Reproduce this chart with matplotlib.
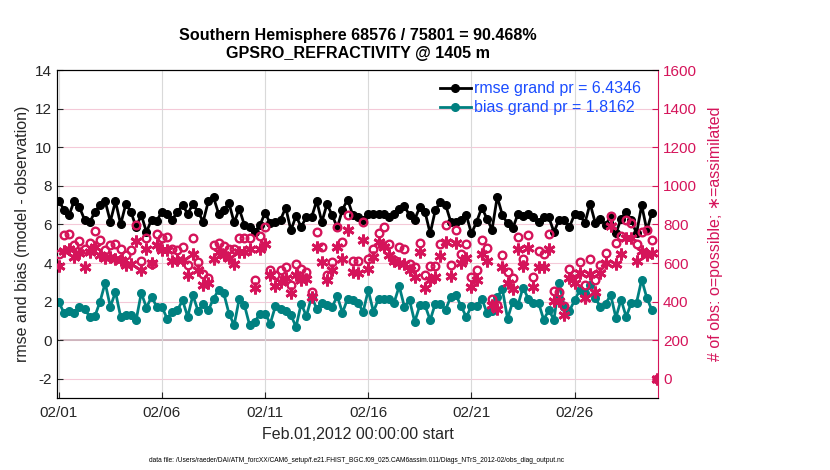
import numpy as np
import pandas as pd
import matplotlib
matplotlib.use('Agg')
import matplotlib.pyplot as plt
import matplotlib.dates as mdates

plt.rcParams['font.family'] = ['Liberation Sans', 'DejaVu Sans']
plt.rcParams['axes.unicode_minus'] = False

# 6-hourly bins, 02/01 00Z .. 03/01 00Z
times = pd.date_range('2012-02-01 00:00', periods=117, freq='6h')
tick_days = pd.to_datetime(['2012-02-01', '2012-02-06', '2012-02-11', '2012-02-16', '2012-02-21', '2012-02-26'])

rmse = [7.22, 6.77, 6.48, 7.22, 6.9, 6.25, 6.1, 6.65, 7.0, 7.2, 6.15, 7.2, 6.0, 7.05, 6.65, 5.85, 6.5, 5.6,
        6.25, 6.2, 6.65, 6.55, 6.25, 6.65, 7.0, 6.55, 7.05, 6.65, 6.15, 7.2, 7.4, 6.55, 6.75, 7.1, 6.1, 6.8,
        5.96, 5.87, 5.61, 5.96, 6.6, 6.05, 6.13, 6.25, 6.87, 5.7, 6.43, 5.87, 6.39, 6.36, 7.22, 6.13, 7.05,
        6.48, 5.84, 6.77, 7.29, 6.48, 6.39, 6.22, 6.56, 6.56, 6.56, 6.56, 6.36, 6.56, 6.82, 6.94, 6.48, 6.25,
        6.91, 6.65, 5.53, 6.74, 7.17,
        7.0, 6.13, 6.13, 6.22, 6.48, 5.53, 6.13, 6.87, 6.3, 5.73, 7.43, 6.48, 6.05, 5.79, 6.53, 6.43, 6.53,
        6.36, 6.13, 6.36, 6.36, 5.61, 6.25, 6.22, 5.87, 6.53, 6.48, 6.08, 7.08, 6.08, 6.3, 5.96, 6.43, 5.53,
        6.3, 6.65, 6.22, 5.53, 7.0, 5.7, 6.61, np.nan]

bias = [1.99, 1.42, 1.52, 1.43, 1.73, 1.64, 1.21, 1.24, 1.99, 2.97, 1.73, 2.5, 1.21, 1.3, 1.3, 1.04, 2.45,
        1.69, 2.25, 1.73, 1.73, 1.12, 1.47, 1.55, 2.07, 1.21, 2.33, 1.52, 1.87, 1.55, 2.16, 2.6, 2.42, 1.38,
        0.78, 2.16,
        1.81, 0.78, 0.95, 1.38, 1.38, 0.86, 1.76, 1.64, 1.52, 1.3, 0.69, 1.9, 1.24, 2.25, 1.64, 1.94, 1.81,
        1.73, 2.28, 1.42, 2.16, 2.1, 1.94, 1.47, 2.59, 1.47, 2.16, 2.16, 2.16, 1.94, 2.8, 1.73, 2.07, 0.95,
        1.81, 1.81, 1.04, 1.9, 1.86,
        1.59, 2.25, 2.33, 1.76, 1.21, 1.76, 1.76, 2.16, 1.42, 1.52, 2.25, 2.63, 1.12, 1.99, 1.81, 2.73, 2.16,
        1.94, 1.94, 1.07, 1.55, 1.07, 2.97, 1.73, 1.52, 2.07, 2.59, 2.42, 2.85, 2.19, 1.73, 1.9, 2.33, 1.17,
        2.1, 1.21, 1.94, 1.94, 3.14, 2.19, 1.55, np.nan]

nposs = [649, 744, 749, 692, 713, 675, 704, 765, 718, 666, 692, 700, 675, 640, 668, 797, 609, 732, 597,
         749, 727, 735, 675, 666, 684, 592, 727, 606, 545, 520, 692, 704, 687, 675, 675, 727,
         727, 727, 511, 739, 787, 566, 537, 563, 577, 485, 597, 571, 554, 450, 761, 684, 537, 606, 787,
         710, 848, 611, 611, 813, 623, 675, 753, 787, 697, 615, 684, 675, 597, 577, 704, 537, 584, 584, 700,
         796, 589, 773, 649, 697, 528, 566, 718, 680, 416, 381, 640, 554, 520, 735, 623, 744, 528, 661,
         649, 749, 456, 450, 376, 571, 542, 606, 485, 620, 513, 589, 653, 843, 704, 739, 822, 805, 697,
         761, 770, 718, 0]

nused = [583, 663, 670, 632, 653, 580, 658, 684, 640, 628, 632, 623, 615, 589, 597, 715, 563, 670, 600,
         692, 666, 666, 611, 615, 618, 537, 649, 563, 485, 494, 623, 658, 640, 628, 597, 658,
         658, 675, 468, 675, 700, 537, 480, 502, 520, 442, 537, 511, 515, 425, 684, 606, 511, 563, 684,
         623, 770, 554, 549, 720, 571, 632, 710, 684, 640, 611, 600, 597, 563, 525, 658, 468, 511, 528, 636,
         710, 532, 704, 600, 628, 476, 511, 646, 611, 381, 364, 577, 494, 463, 670, 584, 680, 476, 577,
         577, 675, 404, 404, 330, 520, 497, 549, 421, 542, 450, 549, 600, 790, 594, 649, 732, 732, 611,
         663, 640, 653, 0]

rmse_grand = 6.4346
bias_grand = 1.8162

obs_color = '#D5145A'
teal = '#008080'
blue = '#1A4CFF'
txt = '#262626'

fig = plt.figure(figsize=(8.3, 4.7), dpi=100)
ax = fig.add_axes([0.0687, 0.153, 0.7241, 0.698])

# grid lines
for yv in range(-2, 15, 2):
    ax.axhline(yv, color='#F4C9D8', lw=0.8, zorder=0)
ax.axhline(0, color='#C8B0B8', lw=1.2, zorder=0)
ax.grid(axis='x', color='#D9D9D9', lw=0.8)
ax.set_axisbelow(True)

ax.plot(times, rmse, '-o', color='black', lw=2, ms=5.5, mfc='black', mec='black',
        label='rmse grand pr = %.4f' % rmse_grand, zorder=3)
ax.plot(times, bias, '-o', color=teal, lw=2, ms=5.5, mfc=teal, mec=teal,
        label='bias grand pr = %.4f' % bias_grand, zorder=3)

ax.set_ylim(-3, 14)
ax.set_yticks(range(-2, 15, 2))
ax.set_xlim(times[0] - pd.Timedelta(hours=2), times[-1] + pd.Timedelta(hours=1))
ax.set_xticks(tick_days)
ax.xaxis.set_major_formatter(mdates.DateFormatter('%m/%d'))
ax.tick_params(direction='in', labelsize=11, colors=txt, length=4)
ax.tick_params(axis='x', pad=6)
ax.set_xlabel('Feb.01,2012 00:00:00 start', fontsize=11.5, color=txt, labelpad=5)
ax.set_ylabel('rmse and bias (model - observation)', fontsize=11.5, color=txt, labelpad=4)
ax.set_title('Southern Hemisphere 68576 / 75801 = 90.468%\nGPSRO_REFRACTIVITY @ 1405 m',
             fontsize=11.6, fontweight='bold', pad=9, linespacing=1.25)

leg = ax.legend(loc='upper right', frameon=False, fontsize=11.5, labelcolor=blue,
                handlelength=1.9, handletextpad=0.2, labelspacing=0.25,
                borderaxespad=0.3, bbox_to_anchor=(0.99, 1.0))

ax2 = ax.twinx()
ax2.plot(times, nposs, 'o', color=obs_color, ms=5.5, mfc='none', mew=1.7, zorder=4)
ax2.plot(times, nused, marker=(6, 2, 0), ls='none', color=obs_color, ms=8.5, mew=2.0, zorder=4)
ax2.set_ylim(-100, 1600)
ax2.set_yticks(range(0, 1601, 200))
ax2.tick_params(direction='in', labelsize=11, colors=obs_color, length=4)
ax2.spines['right'].set_color(obs_color)
ax2.set_ylabel('# of obs: o=possible; \u2217=assimilated', fontsize=11.5, color=obs_color, labelpad=8)
ax.spines['right'].set_visible(False)

fig.text(0.43, 0.016, 'data file: /Users/raeder/DAI/ATM_forcXX/CAM6_setup/f.e21.FHIST_BGC.f09_025.'
         'CAM6assim.011/Diags_NTrS_2012-02/obs_diag_output.nc', fontsize=4.75, ha='center', color='black')

fig.savefig('out.png', dpi=100)
